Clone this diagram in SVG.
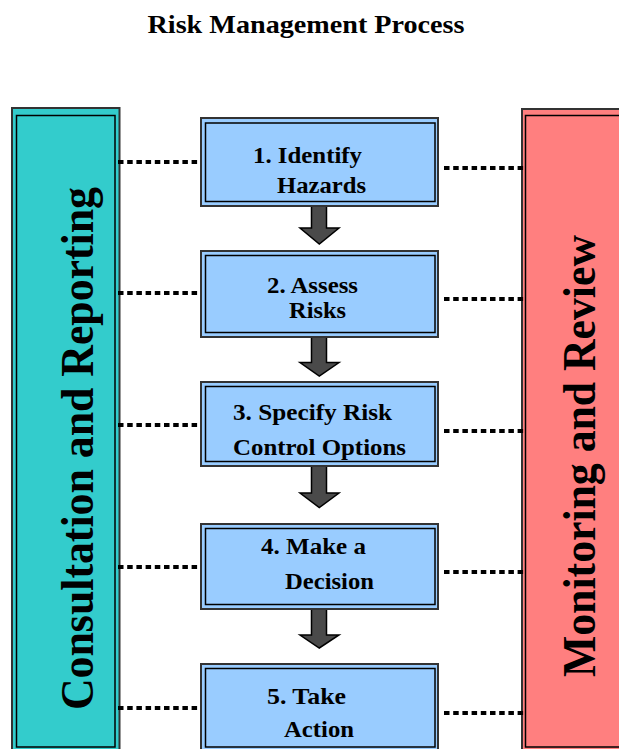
<svg xmlns="http://www.w3.org/2000/svg" width="619" height="749" viewBox="0 0 619 749">
<style>
.t{font-family:"Liberation Serif","Times New Roman",serif;font-weight:bold;fill:#000}
.bx{font-size:24px}
.outer{stroke:#333;stroke-width:2}
.inner{fill:none;stroke:#000;stroke-width:1.5}
.box{fill:#99CCFF}
.dot{fill:none;stroke:#000;stroke-width:4;stroke-dasharray:5.5 3.7}
.arr{fill:#4a4a4a;stroke:#000;stroke-width:1.5;stroke-linejoin:miter}
</style>
<rect width="619" height="749" fill="#fff"/>
<text class="t" x="306" y="33" font-size="25" text-anchor="middle" textLength="317" lengthAdjust="spacingAndGlyphs">Risk Management Process</text>

<g id="consultation">
<rect class="outer" x="12" y="108" width="107.5" height="660" fill="#33CCCC"/>
<rect class="inner" x="16.5" y="115.5" width="98.5" height="631.5"/>
<text class="t" font-size="46" transform="translate(93,448.5) rotate(-90)" text-anchor="middle" textLength="523" lengthAdjust="spacingAndGlyphs">Consultation and Reporting</text>
</g>

<g id="monitoring">
<rect class="outer" x="522" y="109" width="120" height="660" fill="#FF7F7F"/>
<rect class="inner" x="525.5" y="115.5" width="110" height="631.5"/>
<text class="t" font-size="46" transform="translate(595,456) rotate(-90)" text-anchor="middle" textLength="442" lengthAdjust="spacingAndGlyphs">Monitoring and Review</text>
</g>

<g id="connectors">
<line class="dot" x1="118" y1="162" x2="199" y2="162"/>
<line class="dot" x1="444" y1="168" x2="525" y2="168"/>
<line class="dot" x1="118" y1="293" x2="199" y2="293"/>
<line class="dot" x1="444" y1="299" x2="525" y2="299"/>
<line class="dot" x1="118" y1="425" x2="199" y2="425"/>
<line class="dot" x1="444" y1="431" x2="525" y2="431"/>
<line class="dot" x1="118" y1="567" x2="199" y2="567"/>
<line class="dot" x1="444" y1="572" x2="525" y2="572"/>
<line class="dot" x1="118" y1="708" x2="199" y2="708"/>
<line class="dot" x1="444" y1="713" x2="525" y2="713"/>
<polygon class="arr" points="311.5,206 326.5,206 326.5,228 339,228 319.3,244 300,228 311.5,228"/>
<polygon class="arr" points="311.5,337 326.5,337 326.5,362.5 339,362.5 319.3,376 300,362.5 311.5,362.5"/>
<polygon class="arr" points="311.5,466 326.5,466 326.5,493 339,493 319.3,507.5 300,493 311.5,493"/>
<polygon class="arr" points="311.5,609 326.5,609 326.5,635 339,635 319.3,648 300,635 311.5,635"/>
</g>

<g id="step1">
<rect class="outer box" x="201" y="118" width="237" height="88"/>
<rect class="inner" x="205.5" y="123" width="229.5" height="78.5"/>
<text class="t bx" x="253" y="163" textLength="109" lengthAdjust="spacingAndGlyphs">1. Identify</text>
<text class="t bx" x="277" y="193" textLength="89" lengthAdjust="spacingAndGlyphs">Hazards</text>
</g>

<g id="step2">
<rect class="outer box" x="201" y="251" width="237" height="86"/>
<rect class="inner" x="205.5" y="255.5" width="229.5" height="77"/>
<text class="t bx" x="267" y="293" textLength="91" lengthAdjust="spacingAndGlyphs">2. Assess</text>
<text class="t bx" x="289" y="318" textLength="57" lengthAdjust="spacingAndGlyphs">Risks</text>
</g>

<g id="step3">
<rect class="outer box" x="201" y="382" width="237" height="84"/>
<rect class="inner" x="205.5" y="386.5" width="229.5" height="75"/>
<text class="t bx" x="233" y="420" textLength="159" lengthAdjust="spacingAndGlyphs">3. Specify Risk</text>
<text class="t bx" x="233" y="455" textLength="173" lengthAdjust="spacingAndGlyphs">Control Options</text>
</g>

<g id="step4">
<rect class="outer box" x="201" y="524" width="237" height="85"/>
<rect class="inner" x="205.5" y="528.5" width="229.5" height="76"/>
<text class="t bx" x="261" y="554" textLength="105" lengthAdjust="spacingAndGlyphs">4. Make a</text>
<text class="t bx" x="285" y="589" textLength="89" lengthAdjust="spacingAndGlyphs">Decision</text>
</g>

<g id="step5">
<rect class="outer box" x="201" y="664" width="237" height="100"/>
<rect class="inner" x="205.5" y="668.5" width="229.5" height="78.5"/>
<text class="t bx" x="267" y="704" textLength="79" lengthAdjust="spacingAndGlyphs">5. Take</text>
<text class="t bx" x="284" y="737" textLength="70" lengthAdjust="spacingAndGlyphs">Action</text>
</g>
</svg>
